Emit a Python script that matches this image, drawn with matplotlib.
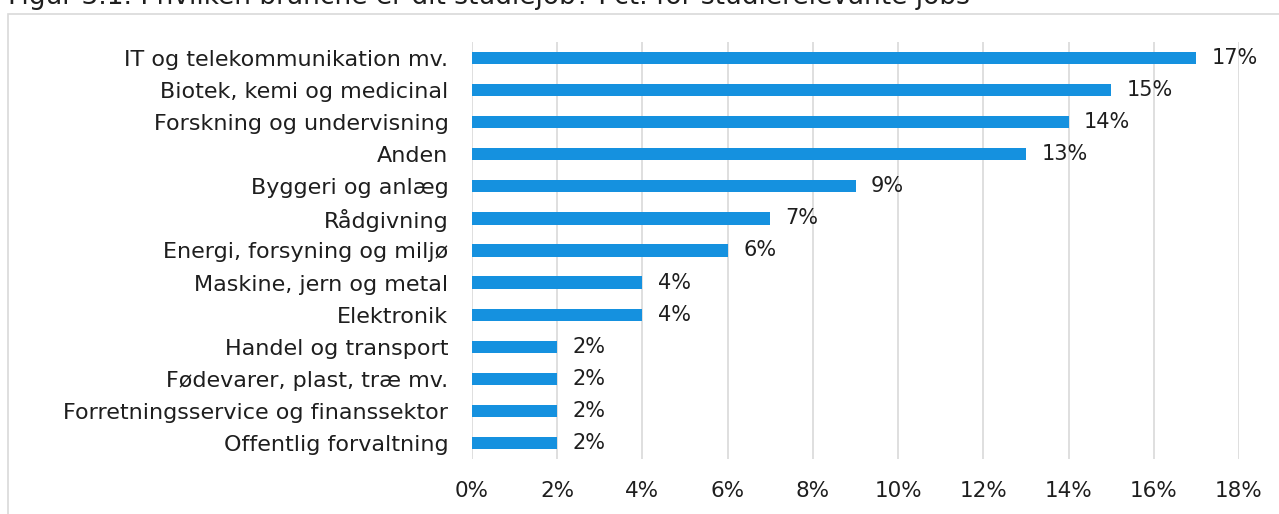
import matplotlib
matplotlib.use("Agg")
import matplotlib.pyplot as plt
from matplotlib.patches import Rectangle

categories = [
    "IT og telekommunikation mv.",
    "Biotek, kemi og medicinal",
    "Forskning og undervisning",
    "Anden",
    "Byggeri og anlæg",
    "Rådgivning",
    "Energi, forsyning og miljø",
    "Maskine, jern og metal",
    "Elektronik",
    "Handel og transport",
    "Fødevarer, plast, træ mv.",
    "Forretningsservice og finanssektor",
    "Offentlig forvaltning",
]
values = [17, 15, 14, 13, 9, 7, 6, 4, 4, 2, 2, 2, 2]
xticks = [0, 2, 4, 6, 8, 10, 12, 14, 16, 18]
title = "Figur 3.1. I hvilken branche er dit studiejob? Pct. for studierelevante jobs"

plt.rcParams['font.family'] = ['DejaVu Sans']
W, H = 1279, 514
fig = plt.figure(figsize=(W/100, H/100), dpi=100)
ax = fig.add_axes([472/W, 1-459/H, (1239-472)/W, (459-42)/H])

ypos = list(range(len(categories)))
ax.barh(ypos, values, height=0.38, color="#1591DF", zorder=3)
for y, v in zip(ypos, values):
    ax.text(v + 0.36, y, f"{v}%", va="center", ha="left", fontsize=15, color="#1e1e1e")

ax.set_ylim(len(categories)-0.5, -0.5)
ax.set_xlim(0, 18)
ax.set_yticks(ypos)
ax.set_yticklabels(categories, fontsize=16, color="#1e1e1e")
ax.set_xticks(xticks)
ax.set_xticklabels([f"{t}%" for t in xticks], fontsize=15.5, color="#1e1e1e")
ax.tick_params(axis="both", length=0)
ax.tick_params(axis="y", pad=17)
ax.tick_params(axis="x", pad=16)
ax.grid(axis="x", color="#d9d9d9", linewidth=1.2, zorder=0)
for s in ax.spines.values():
    s.set_visible(False)

fig.patches.append(Rectangle((8/W, -0.1), 1.2, 1 - 14/H + 0.1, transform=fig.transFigure,
                             facecolor="none", edgecolor="#d9d9d9", linewidth=1.2))
fig.text(8/W, 1 - 4/H, title, fontsize=19, fontweight="medium", va="baseline", ha="left", color="#1e1e1e")

fig.savefig("out.png", dpi=100)
